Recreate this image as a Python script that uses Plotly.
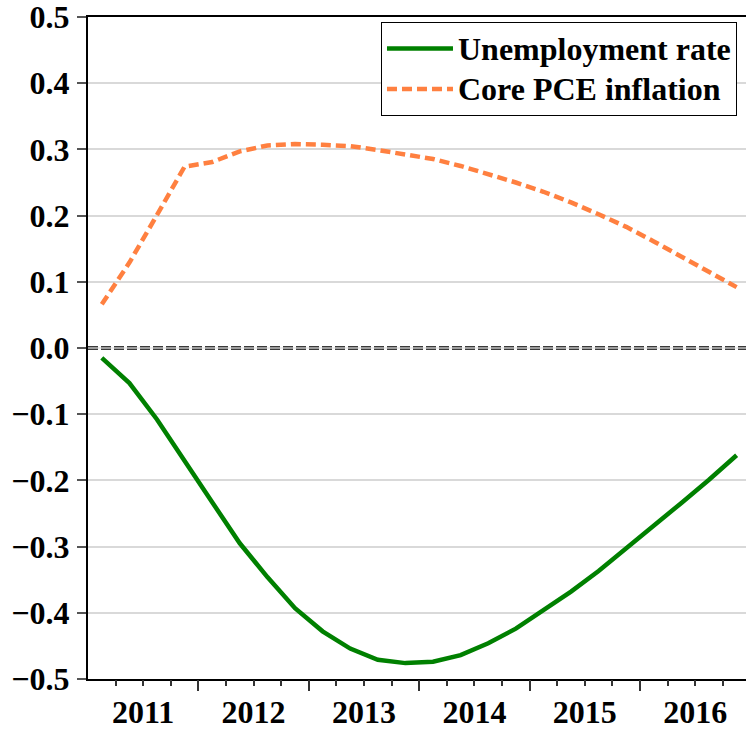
import plotly.graph_objects as go

quarters = list(range(24))  # 2011Q1 .. 2016Q4
years = ["2011", "2012", "2013", "2014", "2015", "2016"]
series_names = ["Unemployment rate", "Core PCE inflation"]

unemployment = [-0.015, -0.053, -0.108, -0.172, -0.233, -0.295, -0.346, -0.393,
                -0.428, -0.454, -0.471, -0.476, -0.474, -0.464, -0.446, -0.424,
                -0.397, -0.368, -0.337, -0.303, -0.270, -0.234, -0.199, -0.162]
core_pce = [0.066, 0.129, 0.201, 0.274, 0.281, 0.297, 0.306, 0.308,
            0.307, 0.305, 0.299, 0.293, 0.2855, 0.275, 0.263, 0.250,
            0.236, 0.220, 0.202, 0.183, 0.161, 0.138, 0.114, 0.092]

year_centers = [1.5 + 4 * i for i in range(len(years))]
year_bounds = [3.5 + 4 * i for i in range(len(years))]
quarter_bounds = [q + 0.5 for q in quarters]

xr = [-0.5, 23.34]
FONT = "Liberation Serif"


def legend_label(s):
    return '<span style="font-size:32px">' + s + "</span>"


fig = go.Figure()

# zero line (double dashed)
fig.add_trace(go.Scatter(x=xr, y=[0, 0], mode="lines", showlegend=False, hoverinfo="skip",
                         line=dict(color="#3a3a3a", width=4, dash="10px,3px")))
fig.add_trace(go.Scatter(x=xr, y=[0, 0], mode="lines", showlegend=False, hoverinfo="skip",
                         line=dict(color="white", width=1)))

fig.add_trace(go.Scatter(x=quarters, y=unemployment, mode="lines",
                         name=legend_label(series_names[0]),
                         line=dict(color="#008000", width=4.5)))
fig.add_trace(go.Scatter(x=quarters, y=core_pce, mode="lines",
                         name=legend_label(series_names[1]),
                         line=dict(color="#FF8040", width=4.5, dash="10px,5px")))

# dummy traces for extra tick axes
fig.add_trace(go.Scatter(x=[None], y=[None], xaxis="x2", showlegend=False))
fig.add_trace(go.Scatter(x=[None], y=[None], xaxis="x3", showlegend=False))

tickfont = dict(family=FONT, size=32, color="black", weight="bold")

fig.update_layout(
    width=746, height=729,
    margin=dict(l=88, r=0, t=17, b=50, autoexpand=False),
    plot_bgcolor="white", paper_bgcolor="white",
    showlegend=True,
    legend=dict(x=0.9863, y=0.9924, xanchor="right", yanchor="top",
                bgcolor="white", bordercolor="black", borderwidth=1,
                font=dict(family=FONT, size=29, color="black", weight="bold"),
                tracegroupgap=0, itemwidth=66),
    xaxis=dict(range=xr, showgrid=False, zeroline=False, automargin=False,
               showline=True, linecolor="black", linewidth=2, mirror=True,
               tickmode="array", tickvals=year_centers, ticktext=years,
               ticks="", tickfont=tickfont, ticklabelstandoff=4,
               ticklabeloverflow="allow"),
    xaxis2=dict(range=xr, overlaying="x", side="bottom", showgrid=False, zeroline=False,
                showline=False, tickmode="array", tickvals=quarter_bounds, automargin=False,
                ticks="outside", ticklen=6, tickwidth=1.5, tickcolor="#333333",
                showticklabels=False),
    xaxis3=dict(range=xr, overlaying="x", side="bottom", showgrid=False, zeroline=False,
                showline=False, tickmode="array", tickvals=year_bounds, automargin=False,
                ticks="outside", ticklen=11, tickwidth=1.5, tickcolor="#333333",
                showticklabels=False),
    yaxis=dict(range=[-0.5, 0.5], dtick=0.1, tick0=0, tickformat=".1f", automargin=False,
               showgrid=True, gridcolor="#d9d9d9", gridwidth=1.5, zeroline=False,
               showline=True, linecolor="black", linewidth=2,
               ticks="outside", ticklen=9, tickwidth=1.5, tickcolor="#555555",
               tickfont=tickfont, ticklabelstandoff=1, ticklabeloverflow="allow"),
)

fig.write_html("out.html", config={"displayModeBar": False},
               post_script="document.body.style.margin='0px';")
